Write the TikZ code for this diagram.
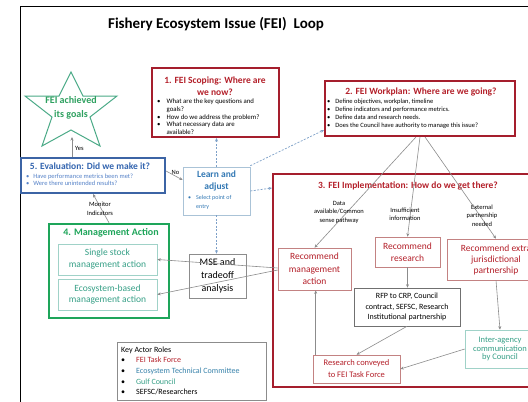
\documentclass[tikz,border=0pt]{standalone}
\usepackage{fontspec}
\setmainfont{Carlito}
\usetikzlibrary{arrows.meta}
\newcommand{\fsz}[2]{\fontsize{#1}{#2}\selectfont}
\definecolor{fred}{RGB}{165,30,45}
\definecolor{fredtext}{RGB}{180,32,42}
\definecolor{lred}{RGB}{195,130,130}
\definecolor{eblue}{RGB}{60,100,165}
\definecolor{etitle}{RGB}{50,100,175}
\definecolor{ebul}{RGB}{85,130,200}
\definecolor{lblue}{RGB}{50,120,180}
\definecolor{lborder}{RGB}{170,195,215}
\definecolor{fgreen}{RGB}{30,165,90}
\definecolor{tealtxt}{RGB}{55,160,135}
\definecolor{ltealb}{RGB}{160,210,200}
\definecolor{starc}{RGB}{75,170,135}
\definecolor{startxt}{RGB}{45,160,95}
\definecolor{agray}{RGB}{140,140,140}
\definecolor{dblue}{RGB}{125,160,200}
\definecolor{etc}{RGB}{55,130,170}
\begin{document}
\begin{tikzpicture}[x=1pt,y=-1pt,
  txt/.style={inner sep=0pt, align=center},
  box/.style={draw, inner sep=0pt},
  redbox/.style={box, draw=fred, line width=2pt},
  thinbox/.style={box, line width=0.6pt},
  arr/.style={draw=agray, line width=0.6pt, -{Stealth[length=3.5pt,width=3pt]}},
  darr/.style={draw=dblue, line width=0.7pt, dash pattern=on 2pt off 1.5pt, -{Stealth[length=3.5pt,width=3pt]}},
  lbl/.style={txt, font=\fsz{6.5}{8.5}}
]
\useasboundingbox (0,0) rectangle (528,402);
\clip (0,0) rectangle (528,402);
\fill[white] (0,0) rectangle (528,402);
\draw[black, line width=1pt] (20,410) -- (20,6) -- (540,6);

\node[txt, font=\fsz{15}{18}\bfseries, anchor=base] (title) at (216,28) {Fishery Ecosystem Issue (FEI)\ \ Loop};

% star
\draw[starc, line width=1pt] (71,72) -- (83,96) -- (117,96) -- (90,117) -- (100,146) -- (71,130) -- (42,146) -- (52,117) -- (25,96) -- (59,96) -- cycle;
\node[txt, font=\fsz{10}{13.5}\bfseries, text=startxt] (goal) at (71,108) {FEI achieved\\its goals};
\coordinate (starbot) at (72,137);

% 1. scoping
\node[redbox, minimum width=127, minimum height=69] (scope) at (215.5,102.5) {};
\node[txt, font=\fsz{9.5}{12}\bfseries, text=fredtext] (scopet) at (215,86) {1. FEI Scoping: Where are\\we now?};
\node[txt, anchor=west, font=\fsz{6.8}{7.8}] (scopeb) at (157,117.5) {\begin{tabular}{@{}l@{\hspace{6pt}}l@{}}\textbullet & What are the key questions and\\ & goals?\\ \textbullet & How do we address the problem?\\ \textbullet & What necessary data are\\ & available?\end{tabular}};

% 2. workplan
\node[redbox, minimum width=190, minimum height=55] (work) at (420,108.5) {};
\node[txt, font=\fsz{9.5}{12}\bfseries, text=fredtext] (workt) at (421,92) {2. FEI Workplan: Where are we going?};
\node[txt, anchor=west, font=\fsz{6.5}{8}] (workb) at (327,113.8) {\begin{tabular}{@{}l@{\hspace{5pt}}l@{}}\textbullet & Define objectives, workplan, timeline\\ \textbullet & Define indicators and performance metrics.\\ \textbullet & Define data and research needs.\\ \textbullet & Does the Council have authority to manage this issue?\end{tabular}};

% 5. evaluation
\node[box, draw=eblue, line width=2pt, minimum width=144, minimum height=35] (eval) at (93,175.5) {};
\node[txt, font=\fsz{9.5}{11}\bfseries, text=etitle] (evalt) at (90,166) {5. Evaluation: Did we make it?};
\node[txt, anchor=west, font=\fsz{6.5}{7.2}, text=ebul] (evalb) at (26,180.5) {\begin{tabular}{@{}l@{\hspace{4pt}}l@{}}\textbullet & Have performance metrics been met?\\ \textbullet & Were there unintended results?\end{tabular}};

% learn and adjust
\node[thinbox, draw=lborder, minimum width=67, minimum height=48] (learn) at (216.5,191) {};
\node[txt, font=\fsz{9.5}{12}\bfseries, text=lblue] (learnt) at (216.5,181) {Learn and\\adjust};
\node[txt, anchor=west, font=\fsz{6}{9}, text=lblue] (learnb) at (188,202.5) {\begin{tabular}{@{}l@{\hspace{5pt}}l@{}}\textbullet & Select point of\\ & entry\end{tabular}};

% 4. management action
\node[box, draw=fgreen, line width=2.5pt, minimum width=120, minimum height=94] (mgmt) at (109,271) {};
\node[txt, font=\fsz{10}{12}\bfseries, text=fgreen] (mgmtt) at (111,233) {4. Management Action};
\node[thinbox, draw=ltealb, minimum width=99, minimum height=31, font=\fsz{9.5}{12}, text=tealtxt, align=center] (single) at (107.5,259.5) {Single stock\\management action};
\node[thinbox, draw=ltealb, minimum width=99, minimum height=31, font=\fsz{9.5}{11.5}, text=tealtxt, align=center] (eco) at (107.5,294.5) {Ecosystem-based\\management action};

% MSE
\node[thinbox, draw=agray, minimum width=57, minimum height=44, font=\fsz{10}{13}, align=center] (mse) at (217.5,276) {MSE and\\tradeoff\\analysis};

% 3. implementation
\node[redbox, minimum width=287, minimum height=213] (impl) at (416.5,280.5) {};
\node[txt, font=\fsz{9.5}{12}\bfseries, text=fredtext] (implt) at (408,186) {3. FEI Implementation: How do we get there?};

\node[thinbox, draw=lred, minimum width=73, minimum height=42, font=\fsz{9.5}{12.5}, text=fredtext, align=center] (recm) at (314.5,269) {Recommend\\management\\action};
\node[thinbox, draw=lred, minimum width=65, minimum height=30, font=\fsz{9.5}{11.5}, text=fredtext, align=center] (recr) at (407.5,252) {Recommend\\research};
\node[thinbox, draw=lred, minimum width=98, minimum height=41, font=\fsz{9.5}{11}, text=fredtext, align=center] (rece) at (496,259.5) {Recommend extra\\jurisdictional\\partnership};
\node[thinbox, draw=agray!80!black, minimum width=106, minimum height=38, font=\fsz{8}{10.5}, align=center] (rfp) at (407,307) {RFP to CRP, Council\\contract, SEFSC, Research\\Institutional partnership};
\node[thinbox, draw=lred, minimum width=87, minimum height=28, font=\fsz{8.5}{12}, text=fredtext, align=center] (resc) at (356.5,369) {Research conveyed\\to FEI Task Force};
\node[thinbox, draw=ltealb, minimum width=70, minimum height=38, font=\fsz{8.5}{8.7}, text=tealtxt, align=center] (inter) at (500,349) {Inter-agency\\communication\\by Council};

% key actor roles
\node[thinbox, draw=agray, minimum width=149, minimum height=58] (key) at (191.5,371) {};
\node[txt, anchor=north west, font=\fsz{8}{10.7}] (keyt) at (121,344.5) {\begin{tabular}{@{}l@{\hspace{11pt}}l@{}}\multicolumn{2}{@{}l@{}}{Key Actor Roles}\\ \textbullet & \textcolor{fredtext}{FEI Task Force}\\ \textbullet & \textcolor{etc}{Ecosystem Technical Committee}\\ \textbullet & \textcolor{tealtxt}{Gulf Council}\\ \textbullet & SEFSC/Researchers\end{tabular}};

% connectors
\draw[arr] (eval.north -| starbot) -- (starbot);
\node[lbl, anchor=west] (yes) at (75,148) {Yes};
\draw[arr] ([yshift=4.5pt]eval.east) -- ([yshift=11pt]learn.west);
\node[lbl] (no) at (175.5,172) {No};
\draw[arr] (mgmt.north) -- (eval.south);
\node[lbl] (mon) at (100,209) {Monitor\\Indicators};

\draw[darr] (learn.north) -- (learn.north |- scope.south);
\draw[darr] ([yshift=1pt]learn.north east) -- ([yshift=-21.5pt]work.west);
\draw[darr] (learn.east) -- ([yshift=3pt]impl.west |- learn.east);
\draw[darr] (learn.south) -- (learn.south |- mse.north);

\draw[arr] ([xshift=-4pt]work.south) -- (recm.north);
\draw[arr] (work.south) -- (recr.north);
\draw[arr] ([xshift=5pt]work.south) -- (rece.north);
\node[lbl] (datal) at (339,212) {Data\\available/Common\\sense pathway};
\node[lbl] (insl) at (405,214.5) {Insufficient\\information};
\node[lbl] (extl) at (482,215.5) {External\\partnership\\needed};

\draw[arr] (recr.south) -- (recr.south |- rfp.north);
\draw[arr] (rfp.south) -- (resc.north);
\draw[arr] (rece.south) -- (inter.north);
\draw[arr] (inter.west) -- (resc.east);
\draw[arr] ([xshift=3pt]resc.north west) -- ([xshift=3pt]resc.north west |- recm.south);
\draw[arr] ([yshift=1pt]recm.west) -- (single.east);
\draw[arr] ([yshift=-1pt]recm.west) -- (eco.east);
\end{tikzpicture}
\end{document}
